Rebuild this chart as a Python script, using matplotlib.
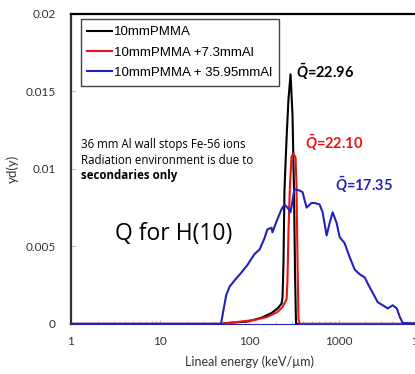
import matplotlib
matplotlib.use("Agg")
import matplotlib.pyplot as plt

plt.rcParams['mathtext.fontset'] = 'custom'
plt.rcParams['mathtext.it'] = 'Lato:bold:italic'
plt.rcParams['mathtext.rm'] = 'Lato:bold'

# series: lineal energy (keV/um) and yd(y)
pmma_x = [1, 48, 55, 70, 95, 137, 177, 207, 229, 235, 241, 247, 261, 274, 289, 304, 316, 325, 333, 10000]
pmma_y = [0, 0, 0.00005, 0.0001, 0.00015, 0.0004, 0.0007, 0.001, 0.0013, 0.0017, 0.004, 0.0086,
          0.012, 0.0145, 0.0161, 0.0135, 0.0086, 0.003, 0, 0]

al73_x = [1, 52, 57, 114, 159, 207, 236, 261, 267, 274, 285, 297, 312, 329, 337, 346, 355, 365, 10000]
al73_y = [0, 0, 0.00005, 0.00025, 0.00045, 0.00077, 0.0011, 0.0016, 0.0028, 0.006, 0.009,
          0.0108, 0.011, 0.0107, 0.009, 0.004, 0.0003, 0, 0]

al36_x = [1, 48, 55, 60, 68, 81, 95, 114, 130, 147, 159, 177, 181, 201, 229, 247, 267, 289,
          320, 365, 394, 437, 497, 537, 612, 661, 733, 792, 857, 950, 1026, 1168, 1330, 1514,
          1722, 1960, 2118, 2411, 2743, 3121, 3552, 4042, 4487, 4845, 5234, 10000]
al36_y = [0, 0, 0.00187, 0.0024, 0.0028, 0.0033, 0.0038, 0.0045, 0.0048, 0.0055, 0.0061,
          0.0062, 0.0059, 0.0066, 0.0074, 0.0077, 0.0075, 0.0072, 0.0087, 0.0086, 0.0085,
          0.0075, 0.0078, 0.0078, 0.0077, 0.0072, 0.0057, 0.0065, 0.0072, 0.0065, 0.0056,
          0.0052, 0.0043, 0.0035, 0.0032, 0.0030, 0.0026, 0.0020, 0.0014, 0.0012, 0.0010,
          0.0012, 0.0010, 0.00045, 0.00006, 0]

labels = ['10mmPMMA', '10mmPMMA +7.3mmAl', '10mmPMMA + 35.95mmAl']
colors = ['black', '#ee1111', '#2222bb']
qbar = ['22.96', '22.10', '17.35']
qbar_pos = [(337, 0.01626), (415, 0.01168), (902, 0.00897)]

fig = plt.figure(figsize=(4.15, 3.74), dpi=100)
ax = fig.add_axes([0.171, 0.134, 0.860, 0.829])

for xs, ys, lab, col in zip([pmma_x, al73_x, al36_x], [pmma_y, al73_y, al36_y], labels, colors):
    ax.plot(xs, ys, color=col, lw=1.5, label=lab, clip_on=False)

ax.set_xscale('log')
ax.set_xlim(1, 10000)
ax.set_ylim(0, 0.02)
ax.set_yticks([0, 0.005, 0.01, 0.015, 0.02])
ax.set_yticklabels(['0', '0.005', '0.01', '0.015', '0.02'])
ax.set_xticks([1, 10, 100, 1000, 10000])
ax.set_xticklabels(['1', '10', '100', '1000', '10000'])

for lab in ax.get_xticklabels() + ax.get_yticklabels():
    lab.set_family('Lato')
    lab.set_fontsize(8.5)
    lab.set_color('#333333')
ax.tick_params(axis='both', which='both', direction='in', color='#bbbbbb')
ax.tick_params(axis='y', length=3, pad=11)
ax.tick_params(axis='x', which='major', length=3, pad=9)
ax.tick_params(axis='x', which='minor', length=2)

ax.spines['left'].set_color('#333333')
ax.spines['left'].set_linewidth(1.6)
ax.spines['top'].set_linewidth(1.6)
ax.spines['bottom'].set_color('#2222bb')

ax.set_xlabel('Lineal energy (keV/µm)', family='Lato', fontsize=9, color='#333333', labelpad=6)
ax.set_ylabel('yd(y)', family='Lato', fontsize=9.5, color='#333333')
ax.yaxis.set_label_coords(-0.145, 0.5)

leg = ax.legend(loc='upper left', bbox_to_anchor=(0.027, 0.982), prop={'family': 'Liberation Sans', 'size': 9.5},
                fancybox=False, framealpha=1, edgecolor='#444444', handlelength=1.9,
                handletextpad=0.15, labelspacing=0.62, borderpad=0.5, borderaxespad=0)
leg.get_frame().set_linewidth(1.0)

ax.text(1.28, 0.01155, '36 mm Al wall stops Fe-56 ions', family='Open Sans', fontsize=8.3, va='center')
ax.text(1.28, 0.01052, 'Radiation environment is due to', family='Open Sans', fontsize=8.3, va='center')
ax.text(1.28, 0.00955, 'secondaries only', family='Open Sans', fontsize=8.3, weight='bold', va='center')
ax.text(3.1, 0.0058, 'Q for H(10)', family='Open Sans', fontsize=16.5, va='center')

for q, (qx, qy), col in zip(qbar, qbar_pos, colors):
    ax.text(qx, qy, r'$\bar{Q}$=' + q, family='Lato', weight='bold', fontsize=10.5, color=col, va='center')

fig.savefig('out.png', dpi=100)
